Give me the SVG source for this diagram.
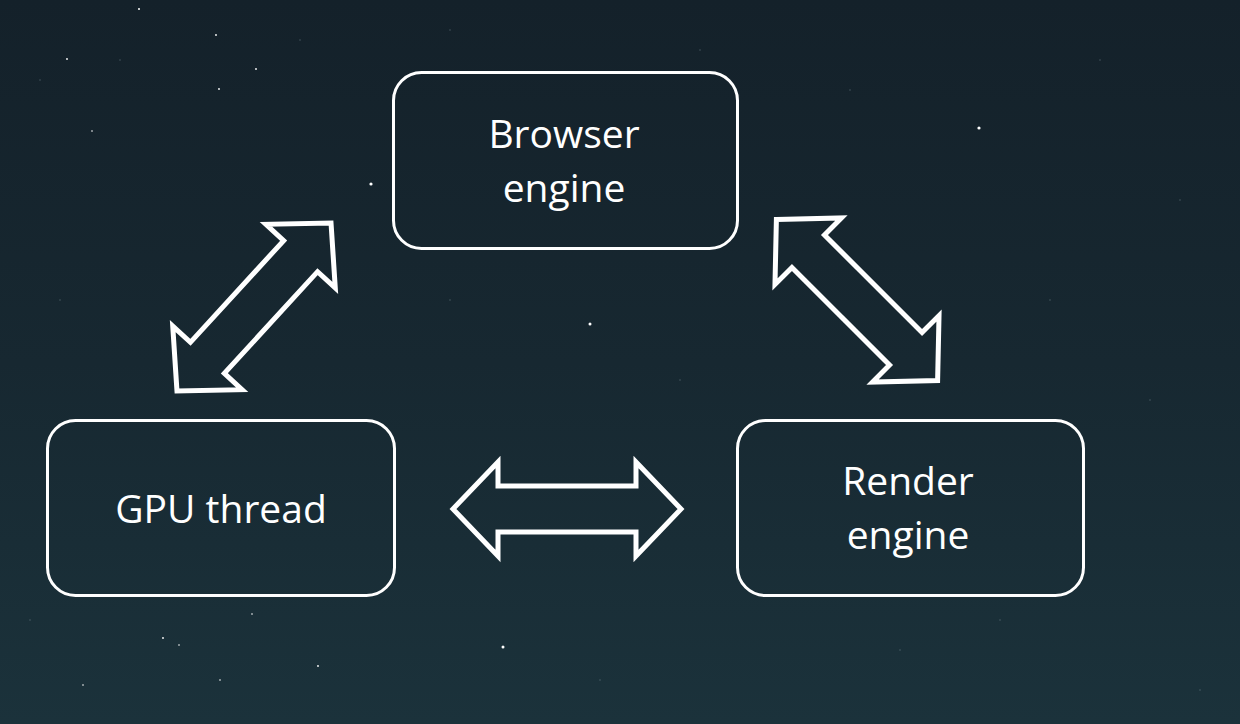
<svg xmlns="http://www.w3.org/2000/svg" width="1240" height="724" viewBox="0 0 1240 724">
  <defs>
    <linearGradient id="sky" x1="0" y1="0" x2="0" y2="1">
      <stop offset="0" stop-color="#14212a"/>
      <stop offset="0.5" stop-color="#172831"/>
      <stop offset="1" stop-color="#1b323b"/>
    </linearGradient>
    <path id="dblArrow" d="M-114,0 L-69,-47 L-69,-23 L69,-23 L69,-47 L114,0 L69,47 L69,23 L-69,23 L-69,47 Z"/>
    <style>
      .box { fill: none; stroke: #ffffff; stroke-width: 3; }
      .lbl { fill: #ffffff; font-family: "Open Sans", "Noto Sans", sans-serif; font-size: 39px; font-weight: 500; text-anchor: middle; }
      .arrow { fill: none; stroke: #ffffff; stroke-width: 5; stroke-linejoin: miter; stroke-miterlimit: 10; }
      .star { fill: #ffffff; }
      .faint { fill: #9fb3bb; opacity: 0.35; }
    </style>
  </defs>

  <rect x="0" y="0" width="1240" height="724" fill="url(#sky)"/>

  <g id="stars">
    <circle class="star" cx="371" cy="184" r="1.6"/>
    <circle class="star" cx="590" cy="324" r="1.5"/>
    <circle class="star" cx="979" cy="128" r="1.6"/>
    <circle class="star" cx="503" cy="647" r="1.5"/>
    <circle class="star" cx="139" cy="9" r="1"/>
    <circle class="star" cx="216" cy="35" r="0.9"/>
    <circle class="star" cx="219" cy="89" r="0.9"/>
    <circle class="star" cx="67" cy="59" r="0.9"/>
    <circle class="star" cx="92" cy="131" r="0.8"/>
    <circle class="star" cx="256" cy="69" r="0.9"/>
    <circle class="star" cx="163" cy="638" r="0.9"/>
    <circle class="star" cx="179" cy="645" r="0.8"/>
    <circle class="star" cx="318" cy="666" r="0.9"/>
    <circle class="star" cx="252" cy="614" r="0.8"/>
    <circle class="star" cx="83" cy="685" r="0.8"/>
    <circle class="star" cx="220" cy="680" r="0.8"/>
    <circle class="faint" cx="40" cy="80" r="0.8"/>
    <circle class="faint" cx="120" cy="60" r="0.8"/>
    <circle class="faint" cx="300" cy="40" r="0.8"/>
    <circle class="faint" cx="450" cy="30" r="0.8"/>
    <circle class="faint" cx="700" cy="50" r="0.8"/>
    <circle class="faint" cx="850" cy="90" r="0.8"/>
    <circle class="faint" cx="1100" cy="60" r="0.8"/>
    <circle class="faint" cx="1180" cy="200" r="0.8"/>
    <circle class="faint" cx="1050" cy="300" r="0.8"/>
    <circle class="faint" cx="1150" cy="400" r="0.8"/>
    <circle class="faint" cx="680" cy="380" r="0.8"/>
    <circle class="faint" cx="450" cy="300" r="0.8"/>
    <circle class="faint" cx="60" cy="300" r="0.8"/>
    <circle class="faint" cx="30" cy="620" r="0.8"/>
    <circle class="faint" cx="600" cy="680" r="0.8"/>
    <circle class="faint" cx="900" cy="650" r="0.8"/>
    <circle class="faint" cx="1200" cy="690" r="0.8"/>
    <circle class="faint" cx="1000" cy="620" r="0.8"/>
  </g>

  <g id="connectors">
    <use href="#dblArrow" class="arrow" transform="translate(254,307) rotate(-47.5)"/>
    <use href="#dblArrow" class="arrow" transform="translate(857,300) rotate(45)"/>
    <use href="#dblArrow" class="arrow" transform="translate(567,509)"/>
  </g>

  <g id="browser-engine">
    <rect class="box" x="393.5" y="72.5" width="344" height="176" rx="28"/>
    <text class="lbl" x="564" y="148">Browser</text>
    <text class="lbl" x="564" y="202">engine</text>
  </g>

  <g id="gpu-thread">
    <rect class="box" x="47.5" y="420.5" width="347" height="175" rx="28"/>
    <text class="lbl" x="221" y="523">GPU thread</text>
  </g>

  <g id="render-engine">
    <rect class="box" x="737.5" y="420.5" width="346" height="175" rx="28"/>
    <text class="lbl" x="908" y="495">Render</text>
    <text class="lbl" x="908" y="549">engine</text>
  </g>
</svg>
